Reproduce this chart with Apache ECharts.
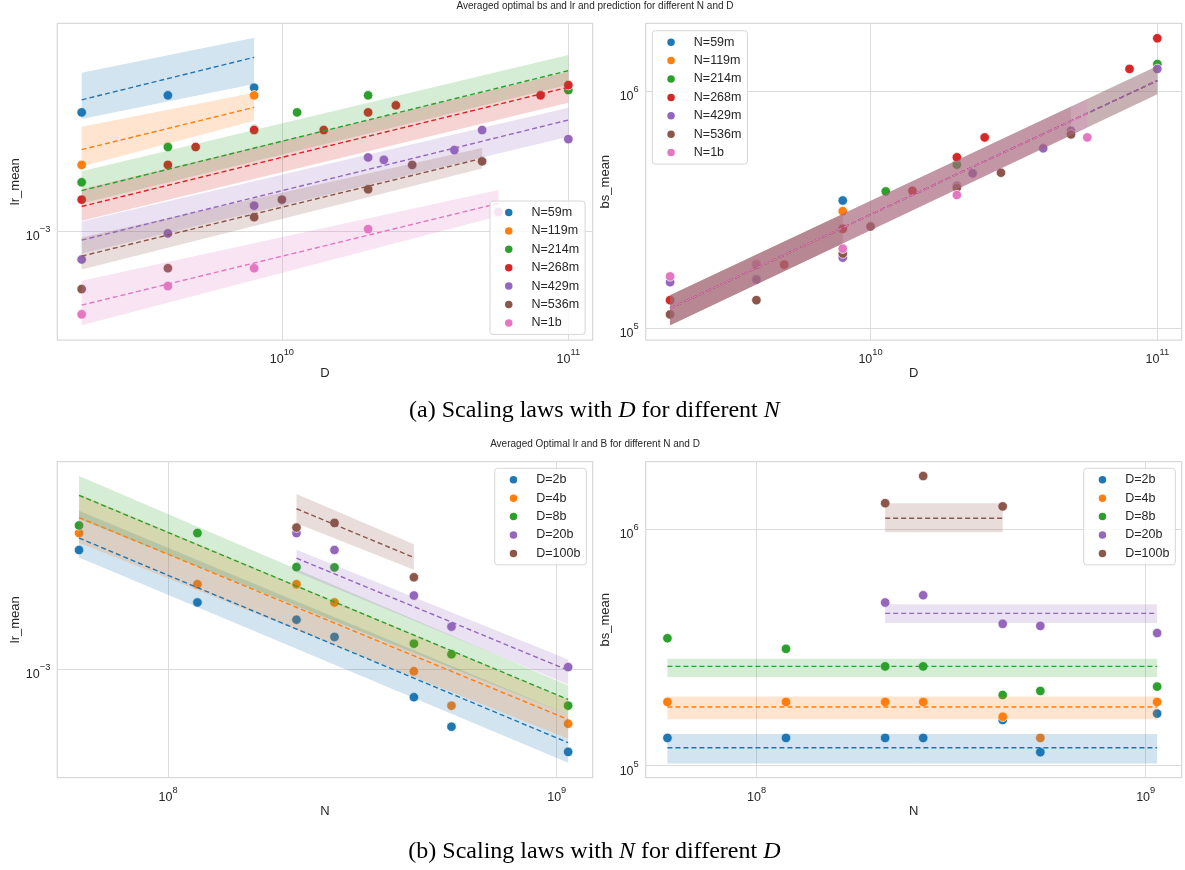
<!DOCTYPE html>
<html>
<head>
<meta charset="utf-8">
<script src="https://cdn.jsdelivr.net/npm/echarts@6/dist/echarts.min.js"></script>
<style>
html,body{margin:0;padding:0;background:#fff;}
#main{width:1185px;height:870px;}
</style>
</head>
<body>
<div id="main"></div>
<script>
// ---------------- DATA ----------------
const N_NAMES = ['N=59m', 'N=119m', 'N=214m', 'N=268m', 'N=429m', 'N=536m', 'N=1b'];
const D_NAMES = ['D=2b', 'D=4b', 'D=8b', 'D=20b', 'D=100b'];
const N_COLORS = ['#1f77b4', '#ff7f0e', '#2ca02c', '#d62728', '#9467bd', '#8c564b', '#e377c2'];
const D_COLORS = ['#1f77b4', '#ff7f0e', '#2ca02c', '#9467bd', '#8c564b'];

// (a) per N: D values (billions of tokens)
const topD = [
  [2, 4, 8],
  [2, 4, 8],
  [2, 4, 8, 11.3, 20, 100],
  [2, 4, 5, 8, 14, 20, 25, 80, 100],
  [2, 4, 8, 20, 22.7, 40, 50, 100],
  [2, 4, 8, 10, 20, 28.5, 50],
  [2, 4, 8, 20, 57]
];
const topLr = [
  [3.28e-3, 3.89e-3, 4.20e-3],
  [1.94e-3, 2.33e-3, 3.89e-3],
  [1.63e-3, 2.32e-3, 2.77e-3, 3.28e-3, 3.89e-3, 4.10e-3],
  [1.37e-3, 1.94e-3, 2.32e-3, 2.75e-3, 2.75e-3, 3.28e-3, 3.52e-3, 3.89e-3, 4.31e-3],
  [7.53e-4, 9.77e-4, 1.29e-3, 2.09e-3, 2.04e-3, 2.25e-3, 2.75e-3, 2.51e-3],
  [5.60e-4, 6.90e-4, 1.15e-3, 1.37e-3, 1.52e-3, 1.94e-3, 2.01e-3],
  [4.35e-4, 5.77e-4, 6.90e-4, 1.02e-3, 1.21e-3]
];
const topBs = [
  [1.31e5, 1.86e5, 3.45e5],
  [1.31e5, 1.86e5, 3.11e5],
  [1.31e5, 1.86e5, 2.63e5, 3.77e5, 4.89e5, 1.30e6],
  [1.31e5, 1.86e5, 1.85e5, 2.62e5, 3.79e5, 5.25e5, 6.37e5, 1.24e6, 1.67e6],
  [1.56e5, 1.60e5, 1.98e5, 3.98e5, 4.49e5, 5.73e5, 6.79e5, 1.24e6],
  [1.14e5, 1.31e5, 2.06e5, 2.68e5, 3.91e5, 4.52e5, 6.56e5],
  [1.65e5, 1.85e5, 2.16e5, 3.64e5, 6.37e5]
];
// (a) fitted predictions at the ends of each D range: [start, end]
const topFitD = [[2, 8], [2, 8], [2, 100], [2, 100], [2, 100], [2, 50], [2, 57]];
const topLrFit = [[3.72e-3, 5.69e-3], [2.26e-3, 3.45e-3], [1.50e-3, 4.98e-3], [1.28e-3, 4.22e-3], [9.14e-4, 3.04e-3], [7.79e-4, 2.07e-3], [4.77e-4, 1.32e-3]];
const topLrHi  = [[4.88e-3, 6.92e-3], [2.84e-3, 3.99e-3], [1.82e-3, 5.82e-3], [1.52e-3, 4.93e-3], [1.10e-3, 3.44e-3], [9.39e-4, 2.30e-3], [6.08e-4, 1.51e-3]];
const topLrLo  = [[3.07e-3, 4.36e-3], [1.91e-3, 3.02e-3], [1.32e-3, 4.32e-3], [1.11e-3, 3.61e-3], [8.00e-4, 2.57e-3], [6.81e-4, 1.87e-3], [3.90e-4, 1.16e-3]];
const topBsFit = [[1.21e5, 2.64e5], [1.21e5, 2.64e5], [1.21e5, 1.107e6], [1.21e5, 1.107e6], [1.21e5, 1.107e6], [1.21e5, 7.46e5], [1.21e5, 8.04e5]];
const topBsHi  = [[1.375e5, 3.02e5], [1.375e5, 3.02e5], [1.375e5, 1.276e6], [1.375e5, 1.276e6], [1.375e5, 1.276e6], [1.375e5, 8.6e5], [1.375e5, 9.25e5]];
const topBsLo  = [[1.027e5, 2.27e5], [1.027e5, 2.27e5], [1.027e5, 9.69e5], [1.027e5, 9.69e5], [1.027e5, 9.69e5], [1.027e5, 6.52e5], [1.027e5, 7.0e5]];

// (b) per D: N values (millions of parameters)
const botN = [
  [59, 119, 214, 268, 429, 536, 1070],
  [59, 119, 214, 268, 429, 536, 1070],
  [59, 119, 214, 268, 429, 536, 1070],
  [214, 268, 429, 536, 1070],
  [214, 268, 429]
];
const botLr = [
  [3.30e-3, 1.95e-3, 1.64e-3, 1.38e-3, 7.54e-4, 5.61e-4, 4.36e-4],
  [3.91e-3, 2.34e-3, 2.34e-3, 1.95e-3, 9.78e-4, 6.93e-4, 5.78e-4],
  [4.22e-3, 3.91e-3, 2.78e-3, 2.77e-3, 1.29e-3, 1.16e-3, 6.93e-4],
  [3.91e-3, 3.30e-3, 2.09e-3, 1.53e-3, 1.02e-3],
  [4.13e-3, 4.33e-3, 2.51e-3]
];
const botBs = [
  [1.31e5, 1.31e5, 1.31e5, 1.31e5, 1.56e5, 1.14e5, 1.66e5],
  [1.86e5, 1.86e5, 1.86e5, 1.86e5, 1.61e5, 1.31e5, 1.86e5],
  [3.46e5, 3.12e5, 2.63e5, 2.63e5, 1.99e5, 2.07e5, 2.16e5],
  [4.90e5, 5.26e5, 3.98e5, 3.90e5, 3.64e5],
  [1.29e6, 1.68e6, 1.25e6]
];
const botFitN = [[59, 1070], [59, 1070], [59, 1070], [214, 1070], [214, 429]];
const botLrFit = [[3.72e-3, 4.78e-4], [4.57e-3, 6.03e-4], [5.71e-3, 7.37e-4], [3.04e-3, 9.88e-4], [4.99e-3, 3.06e-3]];
const botLrHi  = [[4.89e-3, 6.34e-4], [5.78e-3, 7.37e-4], [6.93e-3, 8.48e-4], [3.31e-3, 1.10e-3], [5.78e-3, 3.50e-3]];
const botLrLo  = [[3.06e-3, 3.91e-4], [3.55e-3, 4.97e-4], [4.50e-3, 6.34e-4], [2.65e-3, 8.56e-4], [4.32e-3, 2.71e-3]];
const botBsFit = [1.19e5, 1.77e5, 2.63e5, 4.41e5, 1.113e6];
const botBsHi  = [1.36e5, 1.96e5, 2.83e5, 4.82e5, 1.29e6];
const botBsLo  = [1.02e5, 1.57e5, 2.37e5, 4.01e5, 9.71e5];

// axis tick labels (powers of ten)
const topXTicks = [10, 11];
const botXTicks = [8, 9];
const lrYTicks = [-3];
const bsYTicks = [5, 6];

// ---------------- CHART ----------------
const FONT = 'Liberation Sans, Arial, Helvetica, sans-serif';
const TXT = '#262626';
const lg = v => Math.log10(v);
function rgba(hex, a) {
  const n = parseInt(hex.slice(1), 16);
  return 'rgba(' + (n >> 16) + ',' + ((n >> 8) & 255) + ',' + (n & 255) + ',' + a + ')';
}
function powLabel(v) {
  const e = Math.round(v);
  return '{b|10}{s|' + (e < 0 ? '\u2212' + (-e) : e) + '}';
}
const richPow = {
  b: {fontSize: 12.5, fontFamily: FONT, color: TXT, lineHeight: 18, verticalAlign: 'bottom'},
  s: {fontSize: 9.3, fontFamily: FONT, color: TXT, lineHeight: 9, verticalAlign: 'top'}
};

function xAxisDef(gi, min, max, ticks, name) {
  return {
    type: 'value', gridIndex: gi, min: min, max: max,
    name: name, nameLocation: 'middle', nameGap: 26,
    nameTextStyle: {fontSize: 13, fontFamily: FONT, color: TXT},
    axisLine: {show: false},
    axisTick: {show: false, customValues: ticks},
    axisLabel: {customValues: ticks, formatter: powLabel, rich: richPow, margin: 8, color: TXT},
    splitLine: {show: true, lineStyle: {color: '#dcdcdc', width: 1}}
  };
}
function yAxisDef(gi, min, max, ticks, name, gap) {
  return {
    type: 'value', gridIndex: gi, min: min, max: max,
    name: name, nameLocation: 'middle', nameGap: gap, nameRotate: 90,
    nameTextStyle: {fontSize: 13, fontFamily: FONT, color: TXT},
    axisLine: {show: false},
    axisTick: {show: false, customValues: ticks},
    axisLabel: {customValues: ticks, formatter: powLabel, rich: richPow, margin: 7, color: TXT, padding: [6, 0, 0, 0]},
    splitLine: {show: true, lineStyle: {color: '#dcdcdc', width: 1}}
  };
}

const series = [];
function scatter(ax, name, color, pts) {
  series.push({
    type: 'scatter', name: name, xAxisIndex: ax, yAxisIndex: ax, data: pts,
    symbol: 'circle', symbolSize: 9.5, silent: true, z: 2,
    itemStyle: {color: color, borderColor: '#ffffff', borderWidth: 0.7, opacity: 1}
  });
}
function fitLine(ax, color, pts) {
  series.push({
    type: 'line', name: 'fit', xAxisIndex: ax, yAxisIndex: ax, data: pts,
    symbol: 'none', showSymbol: false, silent: true, z: 3,
    lineStyle: {color: color, width: 1.4, type: [5, 3]}
  });
}
function band(ax, color, x1, x2, lo1, hi1, lo2, hi2) {
  series.push({
    type: 'custom', name: 'band', xAxisIndex: ax, yAxisIndex: ax, silent: true, z: 3,
    data: [[x1, x2, lo1, hi1, lo2, hi2]],
    encode: {x: [0, 1], y: [2, 3, 4, 5]},
    renderItem: function (params, api) {
      const a = api.coord([api.value(0), api.value(3)]);
      const b = api.coord([api.value(1), api.value(5)]);
      const c = api.coord([api.value(1), api.value(4)]);
      const d = api.coord([api.value(0), api.value(2)]);
      return {type: 'polygon', shape: {points: [a, b, c, d]}, style: {fill: rgba(color, 0.2), stroke: null}};
    }
  });
}

// (a) left: lr vs D ; right: bs vs D
for (let ax = 0; ax < 2; ax++) {
  const vals = ax === 0 ? topLr : topBs;
  for (let i = 0; i < N_NAMES.length; i++) {
    scatter(ax, N_NAMES[i], N_COLORS[i], topD[i].map((d, j) => [lg(d * 1e9), lg(vals[i][j])]));
  }
  const fit = ax === 0 ? topLrFit : topBsFit;
  const hi = ax === 0 ? topLrHi : topBsHi;
  const lo = ax === 0 ? topLrLo : topBsLo;
  for (let i = 0; i < N_NAMES.length; i++) {
    const x1 = lg(topFitD[i][0] * 1e9), x2 = lg(topFitD[i][1] * 1e9);
    fitLine(ax, N_COLORS[i], [[x1, lg(fit[i][0])], [x2, lg(fit[i][1])]]);
    band(ax, N_COLORS[i], x1, x2, lg(lo[i][0]), lg(hi[i][0]), lg(lo[i][1]), lg(hi[i][1]));
  }
}
// (b) left: lr vs N ; right: bs vs N
for (let k = 0; k < D_NAMES.length; k++) {
  scatter(2, D_NAMES[k], D_COLORS[k], botN[k].map((n, j) => [lg(n * 1e6), lg(botLr[k][j])]));
}
for (let k = 0; k < D_NAMES.length; k++) {
  const x1 = lg(botFitN[k][0] * 1e6), x2 = lg(botFitN[k][1] * 1e6);
  fitLine(2, D_COLORS[k], [[x1, lg(botLrFit[k][0])], [x2, lg(botLrFit[k][1])]]);
  band(2, D_COLORS[k], x1, x2, lg(botLrLo[k][0]), lg(botLrHi[k][0]), lg(botLrLo[k][1]), lg(botLrHi[k][1]));
}
for (let k = 0; k < D_NAMES.length; k++) {
  scatter(3, D_NAMES[k], D_COLORS[k], botN[k].map((n, j) => [lg(n * 1e6), lg(botBs[k][j])]));
}
for (let k = 0; k < D_NAMES.length; k++) {
  const x1 = lg(botFitN[k][0] * 1e6), x2 = lg(botFitN[k][1] * 1e6);
  fitLine(3, D_COLORS[k], [[x1, lg(botBsFit[k])], [x2, lg(botBsFit[k])]]);
  band(3, D_COLORS[k], x1, x2, lg(botBsLo[k]), lg(botBsHi[k]), lg(botBsLo[k]), lg(botBsHi[k]));
}

function legendDef(names, left, top) {
  return {
    data: names, left: left, top: top, orient: 'vertical', icon: 'circle',
    itemWidth: 9.5, itemHeight: 9.5, itemGap: 4.4, padding: [4.5, 6, 4.5, 13],
    backgroundColor: 'rgba(255,255,255,0.8)', borderColor: '#d6d6d6', borderWidth: 1, borderRadius: 3,
    selectedMode: false,
    textStyle: {fontSize: 12.5, fontFamily: FONT, color: TXT, lineHeight: 14, padding: [0, 0, 0, 13]}
  };
}

const gridCommon = {show: true, borderColor: '#d9d9d9', borderWidth: 1.25, backgroundColor: 'transparent', containLabel: false, outerBoundsMode: 'none'};

const option = {
  animation: false,
  backgroundColor: '#ffffff',
  textStyle: {fontFamily: FONT},
  grid: [
    Object.assign({left: 57.3, top: 23.3, width: 535.4, height: 316.7}, gridCommon),
    Object.assign({left: 645.7, top: 23.3, width: 536, height: 316.7}, gridCommon),
    Object.assign({left: 57.3, top: 461.7, width: 535.4, height: 316}, gridCommon),
    Object.assign({left: 645.7, top: 461.7, width: 536, height: 316}, gridCommon)
  ],
  xAxis: [
    xAxisDef(0, 9.216, 11.085, topXTicks, 'D'),
    xAxisDef(1, 9.216, 11.085, topXTicks, 'D'),
    xAxisDef(2, 7.715, 9.0925, botXTicks, 'N'),
    xAxisDef(3, 7.715, 9.0925, botXTicks, 'N')
  ],
  yAxis: [
    yAxisDef(0, -3.473, -2.097, lrYTicks, 'lr_mean', 35),
    yAxisDef(1, 4.949, 6.286, bsYTicks, 'bs_mean', 34),
    yAxisDef(2, -3.473, -2.097, lrYTicks, 'lr_mean', 35),
    yAxisDef(3, 4.949, 6.286, bsYTicks, 'bs_mean', 34)
  ],
  legend: [
    legendDef(N_NAMES, 490, 201),
    legendDef(N_NAMES, 652.3, 30.7),
    legendDef(D_NAMES, 494.7, 468.3),
    legendDef(D_NAMES, 1083.7, 468.3)
  ],
  graphic: [
    {type: 'text', x: 595, y: 6, silent: true,
     style: {text: 'Averaged optimal bs and lr and prediction for different N and D', font: '10px ' + FONT, fill: TXT, align: 'center', verticalAlign: 'middle'}},
    {type: 'text', x: 595, y: 444, silent: true,
     style: {text: 'Averaged Optimal lr and B for different N and D', font: '10px ' + FONT, fill: TXT, align: 'center', verticalAlign: 'middle'}},
    {type: 'text', x: 594.4, y: 411, silent: true,
     style: {text: '(a) Scaling laws with {i|D} for different {i|N}', font: '24px Liberation Serif', fill: '#000', align: 'center', verticalAlign: 'middle',
       rich: {i: {fontStyle: 'italic', fontSize: 24, fontFamily: 'Liberation Serif', fill: '#000', color: '#000'}}}},
    {type: 'text', x: 594.4, y: 852, silent: true,
     style: {text: '(b) Scaling laws with {i|N} for different {i|D}', font: '24px Liberation Serif', fill: '#000', align: 'center', verticalAlign: 'middle',
       rich: {i: {fontStyle: 'italic', fontSize: 24, fontFamily: 'Liberation Serif', fill: '#000', color: '#000'}}}}
  ],
  series: series
};

const chart = echarts.init(document.getElementById('main'), null, {renderer: 'canvas'});
chart.setOption(option);
</script>
</body>
</html>
